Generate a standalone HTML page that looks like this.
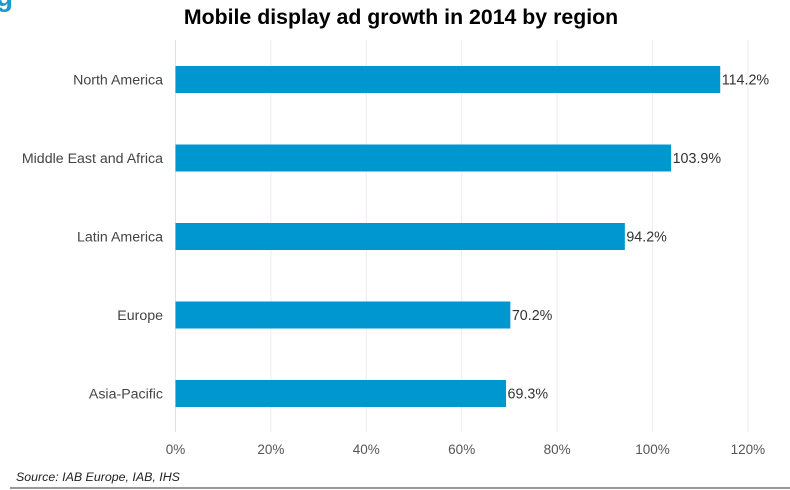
<!DOCTYPE html>
<html><head><meta charset="utf-8"><style>
body{margin:0;background:#fff;}
svg{display:block;font-family:"Liberation Sans",Arial,sans-serif;}
</style></head><body>
<svg id="chart" width="790" height="490" viewBox="0 0 790 490">
<text x="-4" y="6" font-size="28" fill="#1a9bc9" font-weight="bold">g</text>
<text x="401" y="24" text-anchor="middle" font-size="21.3" font-weight="bold" fill="#000">Mobile display ad growth in 2014 by region</text>
<g id="grid"></g><g id="bars"></g><g id="labels"></g>
<text x="16" y="481" font-size="12.4" font-style="italic" fill="#222">Source: IAB Europe, IAB, IHS</text>
<line x1="10" y1="488" x2="790" y2="488" stroke="#777" stroke-width="1.5"/>
</svg>
<script>
const categories=["North America","Middle East and Africa","Latin America","Europe","Asia-Pacific"];
const values=[114.2,103.9,94.2,70.2,69.3];
const valueLabels=["114.2%","103.9%","94.2%","70.2%","69.3%"];
const ticks=[0,20,40,60,80,100,120];
const tickLabels=["0%","20%","40%","60%","80%","100%","120%"];
const NS="http://www.w3.org/2000/svg";
const x=v=>175.5+v*4.77;
const y=i=>79.5+i*78.5;
function mk(t,a,p,txt){const e=document.createElementNS(NS,t);for(const k in a)e.setAttribute(k,a[k]);if(txt!==undefined)e.textContent=txt;document.getElementById(p).appendChild(e);return e;}
ticks.forEach((t,i)=>{
 const l=mk("line",{x1:x(t),x2:x(t),y1:40,y2:432,stroke:t===0?"#e0e0e0":"#ececec","stroke-width":1},"grid");
 
 
 const tx=mk("text",{x:x(t),y:454,"text-anchor":"middle","font-size":13.5,fill:"#555"},"labels",tickLabels[i]);
 
 
});
categories.forEach((c,i)=>{
 const b=mk("rect",{x:x(0),y:y(i)-13.5,width:x(values[i])-x(0),height:27,fill:"#0096cf"},"bars");
 
 
 const cl=mk("text",{x:163,y:y(i)+5,"text-anchor":"end","font-size":14.2,fill:"#444"},"labels",c);
 
 
 const vl=mk("text",{x:x(values[i])+1.5,y:y(i)+5,"font-size":14.3,fill:"#333"},"labels",valueLabels[i]);
 
 
});
</script>
</body></html>
